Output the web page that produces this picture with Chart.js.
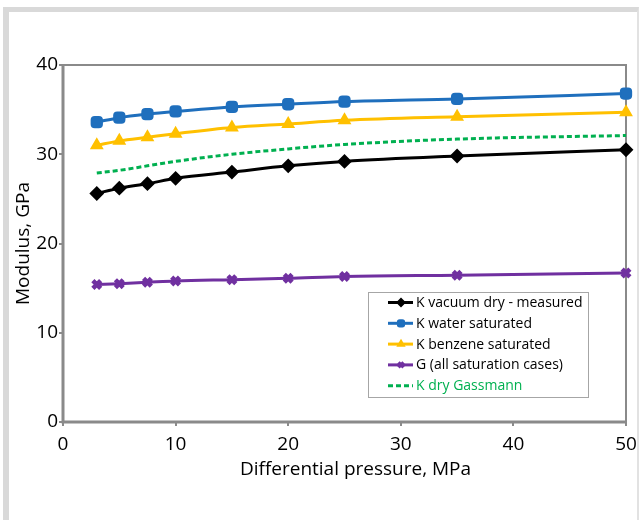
<!DOCTYPE html>
<html>
<head>
<meta charset="utf-8">
<script src="https://cdn.jsdelivr.net/npm/chart.js@4/dist/chart.umd.min.js"></script>
<style>
  html, body { margin: 0; padding: 0; background: #ffffff; }
  #wrap { position: relative; width: 640px; height: 520px; overflow: hidden; background: #ffffff; }
  #frame {
    position: absolute; left: 3px; top: 7px; right: 1px; bottom: -20px;
    border-left: 6px solid #d9d9d9; border-top: 5px solid #d9d9d9; border-right: 2px solid #e2e2e2;
  }
  #chart { position: absolute; left: 0; top: 0; }
</style>
</head>
<body>
<div id="wrap">
  <div id="frame"></div>
  <canvas id="chart" width="640" height="520"></canvas>
</div>
<script>
// Differential pressure steps (MPa)
const pressure = [3, 5, 7.5, 10, 15, 20, 25, 35, 50];

// Moduli in GPa at each pressure step
const kVacuumDry = [25.6, 26.2, 26.7, 27.3, 28.0, 28.7, 29.2, 29.8, 30.5];
const kWater     = [33.6, 34.1, 34.5, 34.8, 35.3, 35.6, 35.9, 36.2, 36.8];
const kBenzene   = [31.0, 31.5, 31.9, 32.3, 33.0, 33.4, 33.8, 34.2, 34.7];
const gShear     = [15.4, 15.5, 15.65, 15.8, 15.95, 16.1, 16.3, 16.45, 16.7];
const kGassmann  = [27.9, 28.2, 28.7, 29.2, 30.0, 30.6, 31.1, 31.7, 32.1];

// Axis ticks
const xTicks = [0, 10, 20, 30, 40, 50];
const yTicks = [0, 10, 20, 30, 40];

const seriesNames = [
  'K vacuum dry - measured',
  'K water saturated',
  'K benzene saturated',
  'G (all saturation cases)',
  'K dry Gassmann'
];

const xTitle = 'Differential pressure, MPa';
const yTitle = 'Modulus, GPa';

const FONT = '"Open Sans", "Noto Sans", sans-serif';
const AXIS_GREY = '#8a8a8a';

const toPoints = (vals) => vals.map((v, i) => ({ x: pressure[i], y: v }));

const datasets = [
  { label: seriesNames[0], data: toPoints(kVacuumDry), borderColor: '#000000', backgroundColor: '#000000',
    pointStyle: 'rectRot', pointRadius: 6, pointBorderWidth: 2 },
  { label: seriesNames[1], data: toPoints(kWater), borderColor: '#1f6fbd', backgroundColor: '#1f6fbd',
    pointStyle: 'rectRounded', pointRadius: 6, pointBorderWidth: 2 },
  { label: seriesNames[2], data: toPoints(kBenzene), borderColor: '#ffc000', backgroundColor: '#ffc000',
    pointStyle: 'triangle', pointRadius: 6, pointBorderWidth: 2 },
  { label: seriesNames[3], data: toPoints(gShear), borderColor: '#7030a0', backgroundColor: '#7030a0',
    pointStyle: 'crossRot', pointRadius: 5.5, pointBorderWidth: 4.5 },
  { label: seriesNames[4], data: toPoints(kGassmann), borderColor: '#00b050', backgroundColor: '#00b050',
    pointRadius: 0, borderDash: [5, 3], labelColor: '#00b050' }
].map(ds => Object.assign({
  borderWidth: 3,
  fill: false,
  cubicInterpolationMode: 'monotone',
  clip: false,
  pointHoverRadius: ds.pointRadius
}, ds));

// Grey plot frame: heavier left/bottom axis lines, lighter top/right
const plotFrame = {
  id: 'plotFrame',
  beforeDatasetsDraw(chart) {
    const { ctx, chartArea: a } = chart;
    ctx.save();
    ctx.strokeStyle = AXIS_GREY;
    ctx.lineWidth = 2;
    ctx.beginPath();
    ctx.moveTo(a.left, a.top); ctx.lineTo(a.right, a.top); ctx.lineTo(a.right, a.bottom);
    ctx.stroke();
    ctx.lineWidth = 3;
    ctx.beginPath();
    ctx.moveTo(a.left, a.top - 1); ctx.lineTo(a.left, a.bottom); ctx.lineTo(a.right + 1, a.bottom);
    ctx.stroke();
    ctx.restore();
  }
};

// Horizontal axis title, set a little right of the plot centre
const xAxisTitle = {
  id: 'xAxisTitle',
  afterDraw(chart) {
    const { ctx, chartArea: a } = chart;
    ctx.save();
    ctx.font = '19px ' + FONT;
    ctx.fillStyle = '#000000';
    ctx.textAlign = 'center';
    ctx.textBaseline = 'middle';
    ctx.fillText(xTitle, (a.left + a.right) / 2 + 11, a.bottom + 48);
    ctx.restore();
  }
};

// Boxed legend in the lower right of the plot area
const boxLegend = {
  id: 'boxLegend',
  afterDraw(chart) {
    const { ctx, chartArea: a } = chart;
    const w = 220, h = 105;
    const x0 = a.right - 38 - w;
    const y0 = a.bottom - 25 - h;
    ctx.save();
    ctx.fillStyle = '#ffffff';
    ctx.fillRect(x0, y0, w, h);
    ctx.strokeStyle = '#a6a6a6';
    ctx.lineWidth = 1;
    ctx.strokeRect(x0 + 0.5, y0 + 0.5, w, h);
    ctx.font = '14px ' + FONT;
    ctx.textBaseline = 'middle';
    chart.data.datasets.forEach((ds, i) => {
      const y = y0 + 10.5 + i * 20.8;
      ctx.save();
      ctx.strokeStyle = ds.borderColor;
      ctx.lineWidth = 3;
      ctx.setLineDash(ds.borderDash || []);
      ctx.beginPath();
      ctx.moveTo(x0 + 20, y);
      ctx.lineTo(x0 + 45, y);
      ctx.stroke();
      ctx.restore();
      if (ds.pointRadius > 0) {
        ctx.save();
        ctx.fillStyle = ds.backgroundColor;
        ctx.strokeStyle = ds.borderColor;
        ctx.lineWidth = ds.pointBorderWidth * 0.75;
        Chart.helpers.drawPoint(ctx, {
          pointStyle: ds.pointStyle, radius: ds.pointRadius * 0.65,
          borderWidth: ds.pointBorderWidth * 0.75, rotation: 0
        }, x0 + 33, y);
        ctx.restore();
      }
      ctx.fillStyle = ds.labelColor || '#000000';
      ctx.fillText(ds.label, x0 + 48, y + 0.5);
    });
    ctx.restore();
  }
};

const tickFont = { family: FONT, size: 19 };

new Chart(document.getElementById('chart'), {
  type: 'line',
  data: { datasets },
  options: {
    responsive: false,
    animation: false,
    devicePixelRatio: 1,
    layout: { padding: { top: 65, right: 14, bottom: 0, left: 0 } },
    plugins: { legend: { display: false }, tooltip: { enabled: false } },
    scales: {
      x: {
        type: 'linear', min: 0, max: 50,
        afterBuildTicks: (s) => { s.ticks = xTicks.map(v => ({ value: v })); },
        afterFit: (s) => { s.height = 98; s.paddingLeft = 0; s.paddingRight = 0; },
        ticks: { font: tickFont, color: '#000000', padding: 7, maxRotation: 0 },
        grid: { drawOnChartArea: false, drawTicks: true, tickLength: 4, color: AXIS_GREY, lineWidth: 2 },
        border: { display: false }
      },
      y: {
        type: 'linear', min: 0, max: 40,
        afterBuildTicks: (s) => { s.ticks = yTicks.map(v => ({ value: v })); },
        afterFit: (s) => { s.width = 63; s.paddingTop = 0; s.paddingBottom = 0; },
        ticks: { font: tickFont, color: '#000000', padding: 1 },
        grid: { drawOnChartArea: false, drawTicks: true, tickLength: 4, color: AXIS_GREY, lineWidth: 2 },
        border: { display: false },
        title: { display: true, text: yTitle, color: '#000000',
                 font: tickFont, padding: { top: 12, bottom: 0 } }
      }
    }
  },
  plugins: [plotFrame, xAxisTitle, boxLegend]
});
</script>
</body>
</html>
